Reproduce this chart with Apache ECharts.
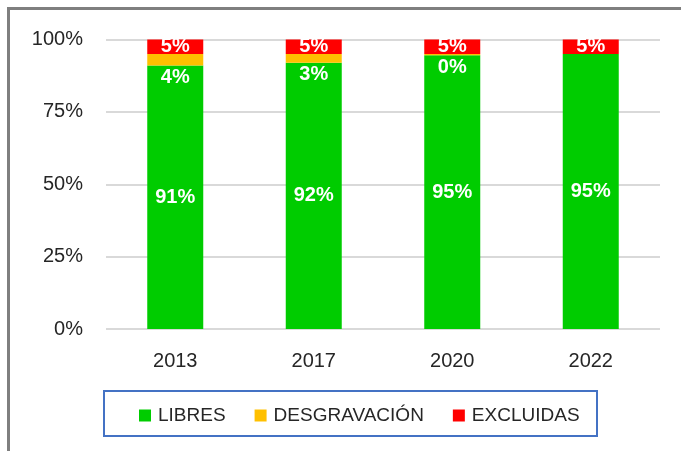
<!DOCTYPE html>
<html>
<head>
<meta charset="utf-8">
<script src="https://cdn.jsdelivr.net/npm/echarts@6/dist/echarts.min.js"></script>
<style>
  html, body { margin: 0; padding: 0; background: #fff; }
  #main { width: 681px; height: 451px; }
</style>
</head>
<body>
<div id="main"></div>
<script>
// years and shares (%)
const years = ['2013', '2017', '2020', '2022'];
const libres = [91, 92, 94.6, 95];
const desgravacion = [4, 3, 0.4, null];
const excluidas = [5, 5, 5, 5];
const yTicks = [0, 25, 50, 75, 100];

const font = 'Liberation Sans';
const pct = p => Math.round(p.value) + '%';

const chartDom = document.getElementById('main');
const myChart = echarts.init(chartDom);

const barLabel = {
  show: true,
  color: '#fff',
  fontFamily: font,
  fontWeight: 'bold',
  fontSize: 20,
  formatter: pct
};

const option = {
  backgroundColor: '#fff',
  animation: false,
  graphic: [
    {
      type: 'rect',
      shape: { x: 8.5, y: 8.5, width: 720, height: 500 },
      style: { fill: 'none', stroke: '#7f7f7f', lineWidth: 3 },
      z: 100
    },
    {
      type: 'rect',
      shape: { x: 104, y: 391, width: 493, height: 45 },
      style: { fill: 'none', stroke: '#4472c4', lineWidth: 2 },
      z: 100
    }
  ],
  grid: {
    left: 106,
    right: 21,
    top: 39.5,
    bottom: 122
  },
  legend: {
    left: 134,
    top: 401,
    icon: 'rect',
    itemWidth: 12,
    itemHeight: 12,
    itemGap: 29,
    textStyle: {
      fontFamily: font,
      fontSize: 19,
      color: '#262626',
      padding: [0, 0, 0, 2]
    },
    data: ['LIBRES', 'DESGRAVACIÓN', 'EXCLUIDAS']
  },
  xAxis: {
    type: 'category',
    data: years,
    axisLine: { show: false },
    axisTick: { show: false },
    axisLabel: {
      margin: 22,
      fontFamily: font,
      fontSize: 20,
      color: '#262626'
    }
  },
  yAxis: {
    type: 'value',
    min: 0,
    max: 100,
    interval: 25,
    axisLine: { show: false },
    axisTick: { show: false },
    splitLine: { lineStyle: { color: '#d9d9d9', width: 2 } },
    axisLabel: {
      margin: 23,
      fontFamily: font,
      fontSize: 20,
      color: '#262626',
      formatter: v => yTicks.includes(v) ? v + '%' : ''
    }
  },
  series: [
    {
      name: 'LIBRES',
      type: 'bar',
      stack: 'total',
      barWidth: 56,
      itemStyle: { color: '#00cc00' },
      label: Object.assign({}, barLabel, { position: 'inside' }),
      data: libres
    },
    {
      name: 'DESGRAVACIÓN',
      type: 'bar',
      stack: 'total',
      barWidth: 56,
      itemStyle: { color: '#ffc000' },
      label: Object.assign({}, barLabel, { position: 'bottom', distance: 2 }),
      data: desgravacion
    },
    {
      name: 'EXCLUIDAS',
      type: 'bar',
      stack: 'total',
      barWidth: 56,
      itemStyle: { color: '#ff0000' },
      label: Object.assign({}, barLabel, { position: 'inside' }),
      data: excluidas
    }
  ]
};

option && myChart.setOption(option);
window.addEventListener('resize', () => {
  myChart.resize();
});
</script>
</body>
</html>
